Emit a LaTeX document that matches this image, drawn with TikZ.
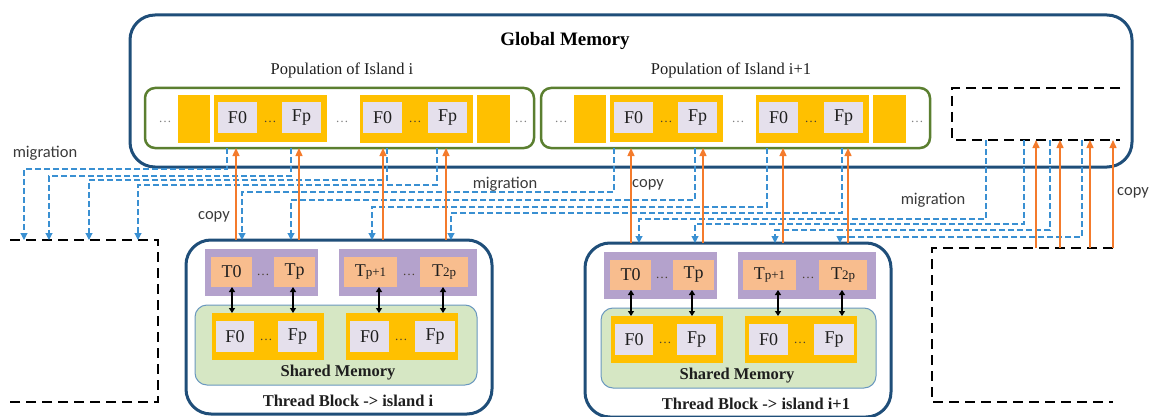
\documentclass[tikz,border=0pt]{standalone}
\usepackage{fontspec}
\setmainfont{Liberation Serif}
\newfontfamily\sansc{Carlito}
\usetikzlibrary{arrows.meta}
\definecolor{gmblue}{HTML}{1F4E79}
\definecolor{popgreen}{HTML}{5B7F30}
\definecolor{yel}{HTML}{FFC000}
\definecolor{lav}{HTML}{E5E0EC}
\definecolor{purp}{HTML}{B4A2CC}
\definecolor{orng}{HTML}{F8BD8E}
\definecolor{smgreen}{HTML}{D6E7C4}
\definecolor{smedge}{HTML}{6A98BF}
\definecolor{cparrow}{HTML}{F47B2C}
\definecolor{migblue}{HTML}{3A90D2}
\definecolor{txt}{HTML}{1E1E1E}
\definecolor{dotc}{HTML}{4A4030}
\definecolor{sanstxt}{HTML}{3A3A3A}
\newcommand\boxfont{\fontsize{18}{20}\selectfont}
\newcommand\smallsub[1]{{\fontsize{13}{13}\selectfont #1}}
\newcommand\mybox[7]{\node[#1,minimum width={(#5)-(#3)},minimum height={(#6)-(#4)}] (#2) at ({((#3)+(#5))/2},{((#4)+(#6))/2}) {#7};}
\tikzset{
 bx/.style={inner sep=0pt, outer sep=0pt},
 gmbx/.style={bx, draw=gmblue, line width=3pt, rounded corners=25pt},
 popbx/.style={bx, draw=popgreen, line width=2.5pt, rounded corners=10pt},
 ybx/.style={bx, fill=yel},
 fbx/.style={bx, fill=lav, font=\boxfont, text=txt},
 pbx/.style={bx, fill=purp},
 tbx/.style={bx, fill=orng, font=\boxfont, text=txt},
 smbx/.style={bx, fill=smgreen, draw=smedge, line width=1pt, rounded corners=12pt},
 tblk/.style={bx, draw=gmblue, line width=3pt, rounded corners=25pt, fill=white},
 ghost/.style={bx},
 dotsty/.style={anchor=base, inner sep=0pt, font=\fontsize{13}{13}\selectfont, text=dotc},
 odotsty/.style={dotsty, text=gray},
 poplbl/.style={font=\fontsize{16.5}{18}\selectfont, text=txt},
 boldlbl/.style={font=\fontsize{16.5}{18}\selectfont\bfseries, text=txt},
 gmlbl/.style={font=\fontsize{19}{21}\selectfont\bfseries, text=black},
 sanslbl/.style={font=\sansc\fontsize{16.5}{18}\selectfont, text=sanstxt},
 cp/.style={draw=cparrow, line width=1.4pt, -{Triangle[width=7pt,length=8pt]}},
 mig/.style={draw=migblue, line width=1.1pt, dash pattern=on 6pt off 3pt, -{Triangle[width=7pt,length=7pt]}},
 dbl/.style={draw=black, line width=1.2pt, {Triangle[width=6pt,length=5pt]}-{Triangle[width=6pt,length=5pt]}},
 bdash/.style={draw=black, line width=2pt, dash pattern=on 10pt off 6pt},
}
\newcommand\island[1]{%
  \mybox{popbx}{Pop#1}{145}{88}{534}{148}{}
  \node[odotsty] at (165,123) {\textellipsis};
  \mybox{ybx}{Ya#1}{178}{95}{210}{143}{}
  \mybox{ybx}{Yb#1}{214}{95}{327}{142}{}
  \mybox{fbx}{Fa#1}{218}{102}{257}{133}{F0}
  \node[dotsty] at (270,123) {\textellipsis};
  \mybox{fbx}{Fb#1}{282}{102}{321}{133}{Fp}
  \node[odotsty] at (342,123) {\textellipsis};
  \mybox{ybx}{Yc#1}{360}{95}{473}{143}{}
  \mybox{fbx}{Fc#1}{363}{102}{402}{133}{F0}
  \node[dotsty] at (415,123) {\textellipsis};
  \mybox{fbx}{Fd#1}{428}{102}{467}{133}{Fp}
  \mybox{ybx}{Yd#1}{477}{95}{510}{143}{}
  \node[odotsty] at (521,123) {\textellipsis};
}
\newcommand\tblock[3]{%
  \mybox{tblk}{TB#1}{186}{240}{492}{414}{}
  \mybox{pbx}{Pa#1}{205}{249}{318}{296}{}
  \mybox{tbx}{Ta#1}{211}{257}{252}{287}{T0}
  \node[dotsty] at (263,275) {\textellipsis};
  \mybox{tbx}{Tb#1}{274}{257}{315}{287}{Tp}
  \mybox{pbx}{Pb#1}{339}{249}{477}{296}{}
  \mybox{tbx}{Tc#1}{344}{257}{397}{287}{T\smallsub{p+1}}
  \node[dotsty] at (409,275) {\textellipsis};
  \mybox{tbx}{Td#1}{420}{257}{468}{287}{T\smallsub{2p}}
  \mybox{smbx}{SM#1}{#3}{305}{477}{385}{}
  \mybox{ybx}{Ye#1}{212}{313}{324}{360}{}
  \mybox{fbx}{Fe#1}{216}{321}{254}{352}{F0}
  \node[dotsty] at (266,340) {\textellipsis};
  \mybox{fbx}{Ff#1}{278}{321}{317}{352}{Fp}
  \mybox{ybx}{Yg#1}{346}{313}{458}{360}{}
  \mybox{fbx}{Fg#1}{350}{321}{389}{352}{F0}
  \node[dotsty] at (401,340) {\textellipsis};
  \mybox{fbx}{Fh#1}{415}{321}{455}{352}{Fp}
  \node[boldlbl] (SL#1) at (338,373) {Shared Memory};
  \node[boldlbl] (TL#1) at (#2,401) {Thread Block -> island \csname tbname#1\endcsname};
  \draw[dbl] (232,0 |- Ta#1.south) -- (232,0 |- Ye#1.north);
  \draw[dbl] (293,0 |- Tb#1.south) -- (293,0 |- Ye#1.north);
  \draw[dbl] (379,0 |- Tc#1.south) -- (379,0 |- Yg#1.north);
  \draw[dbl] (443,0 |- Td#1.south) -- (443,0 |- Yg#1.north);
}
\expandafter\def\csname tbnamea\endcsname{i}
\expandafter\def\csname tbnameb\endcsname{i+1}
\begin{document}
\begin{tikzpicture}[x=1pt,y=-1pt]
\useasboundingbox (0,0) rectangle (1150,417);
% global memory
\mybox{gmbx}{GM}{130}{15}{1132}{167}{}
\node[gmlbl] (GMl) at (565,41) {Global Memory};
\node[poplbl] (PLa) at (342,70) {Population of Island i};
\node[poplbl] (PLb) at (731,70) {Population of Island i+1};
\island{A}
\begin{scope}[xshift=396pt]
\island{B}
\end{scope}
% dashed outline rectangles
\mybox{ghost}{TR}{952}{88}{1120}{140}{}
\mybox{ghost}{LR}{10}{240}{158}{402}{}
\mybox{ghost}{BR}{932}{248}{1113}{402}{}
\draw[bdash] (TR.north east) -- (TR.north west) -- (TR.south west) -- (TR.south east);
\draw[bdash] (LR.north west) -- (LR.north east) -- (LR.south east) -- (LR.south west);
\draw[bdash] (BR.north east) -- (BR.north west) -- (BR.south west) -- (BR.south east);
% thread blocks
\tblock{a}{348}{195}
\begin{scope}[shift={(399,3)}]
\tblock{b}{357}{202}
\end{scope}
% migration lines
\foreach \sx/\ly/\dx in {227/169/24, 291/176/49, 387/180/89, 437/185/138}
  \draw[mig] (\sx,0 |- PopA.south) -- (\sx,\ly) -| (\dx,0 |- LR.north);
\foreach \sx/\ly/\dx in {614/192/242, 695/200/291, 767/207/372, 842/213/451}
  \draw[mig] (\sx,0 |- PopB.south) -- (\sx,\ly) -| (\dx,0 |- TBa.north);
\foreach \sx/\ly/\dx in {986/219/639, 1024/224/695, 1050/230/775, 1082/237/840}
  \draw[mig] (\sx,0 |- TR.south) -- (\sx,\ly) -| (\dx,0 |- TBb.north);
% copy arrows
\foreach \x in {236,299,383,446}
  \draw[cp] (\x,0 |- TBa.north) -- (\x,0 |- PopA.south);
\foreach \x in {631,703,783,848}
  \draw[cp] (\x,0 |- TBb.north) -- (\x,0 |- PopB.south);
\foreach \x in {1036,1060,1090,1113}
  \draw[cp] (\x,0 |- BR.north) -- (\x,0 |- TR.south);
% labels
\node[sanslbl] (mg1) at (45,153) {migration};
\node[sanslbl] (mg2) at (505,184) {migration};
\node[sanslbl] (mg3) at (933,200) {migration};
\node[sanslbl] (cp1) at (214,217) {copy};
\node[sanslbl] (cp2) at (648,185) {copy};
\node[sanslbl] (cp3) at (1133,193) {copy};
\end{tikzpicture}
\end{document}
